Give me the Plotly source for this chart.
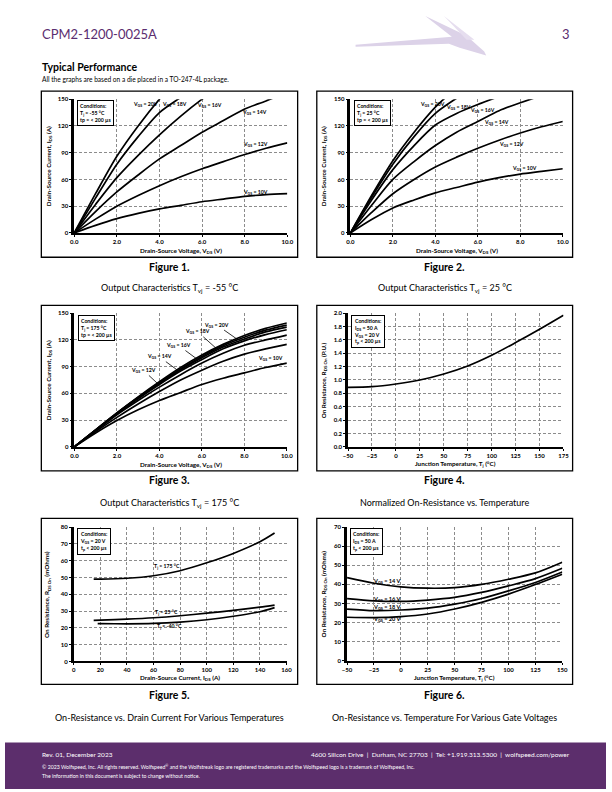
import plotly.graph_objects as go

W, H = 612, 792
FONT = "Lato"
PURPLE = "#5b2d70"

# ---------------- data ----------------
# Figure 1: Output characteristics Tvj = -55 C  (Vds in V, Ids in A)
f1_x20 = [0, 1, 2, 3, 4, 5];            f1_y20 = [0, 44, 86, 120, 150, 176]
f1_x18 = [0, 1, 2, 3, 4, 5, 6];         f1_y18 = [0, 39, 77, 108, 135, 152, 168]
f1_x16 = [0, 1, 2, 3, 4, 5, 6, 7];      f1_y16 = [0, 32, 62, 87, 110, 131, 150, 167]
f1_x14 = [0, 1, 2, 3, 4, 5, 6, 7, 8, 9, 10]; f1_y14 = [0, 24, 46, 65, 83, 98, 113, 126, 139, 148, 158]
f1_x12 = [0, 1, 2, 3, 4, 5, 6, 7, 8, 9, 10]; f1_y12 = [0, 15.5, 30, 42, 53, 63, 72, 80, 88, 95, 101]
f1_x10 = [0, 1, 2, 3, 4, 5, 6, 7, 8, 9, 10]; f1_y10 = [0, 8.5, 16, 22, 27, 31, 35, 38, 41, 43, 44]

# Figure 2: Output characteristics Tvj = 25 C
f2_x20 = [0, 1, 2, 3, 4, 5];            f2_y20 = [0, 42, 81, 113, 141, 163]
f2_x18 = [0, 1, 2, 3, 4, 5, 6];         f2_y18 = [0, 40, 77, 108, 134, 151, 166]
f2_x16 = [0, 1, 2, 3, 4, 5, 6, 7];      f2_y16 = [0, 37, 71, 98, 121, 134, 144, 153]
f2_x14 = [0, 1, 2, 3, 4, 5, 6, 7, 8, 9]; f2_y14 = [0, 31, 60, 80, 98, 113, 125, 137, 146, 154]
f2_x12 = [0, 1, 2, 3, 4, 5, 6, 7, 8, 9, 10]; f2_y12 = [0, 23, 44, 60, 74, 85, 95, 104, 112, 119, 125]
f2_x10 = [0, 1, 2, 3, 4, 5, 6, 7, 8, 9, 10]; f2_y10 = [0, 15, 28, 37, 45, 51, 57, 62, 66, 69, 72]

# Figure 3: Output characteristics Tvj = 175 C (7 curves)
f3_vds = [0, 1, 2, 3, 4, 5, 6, 7, 8, 9, 10]
f3_a = [0, 19, 38, 56, 73, 89, 103, 115, 125, 133, 139]
f3_b = [0, 19, 38, 55.5, 72, 87.5, 101.5, 113.5, 123, 131, 136.7]
f3_c = [0, 18.8, 37.5, 55, 71, 86.5, 100, 112, 121, 129, 134.4]
f3_d = [0, 18.5, 37, 54, 70, 85, 98, 110, 119, 126, 131.5]
f3_e = [0, 18, 36, 52, 67, 81, 94, 105, 114, 120, 125.5]
f3_f = [0, 17, 33, 48, 62, 75, 86, 96, 104, 110, 115]
f3_g = [0, 15.5, 29.5, 41.5, 52, 61, 70, 77, 83, 89, 94]

# Figure 4: Normalized on-resistance vs temperature
f4_tj = [-50, -25, 0, 25, 50, 75, 100, 125, 150, 175]
f4_r = [0.89, 0.90, 0.94, 1.00, 1.09, 1.21, 1.37, 1.56, 1.76, 1.97]

# Figure 5: On-resistance vs drain current
f5_id = [15, 20, 40, 60, 80, 100, 120, 140, 151]
f5_r175 = [49, 49, 49.5, 51, 54, 58.7, 64.3, 71.3, 76.5]
f5_r25 = [24.5, 24.6, 25.2, 26, 27.2, 28.7, 30.4, 32.3, 33.5]
f5_id_m40 = [18, 20, 40, 60, 80, 100, 120, 140, 151]
f5_rm40 = [22.5, 22.5, 22.4, 22.6, 23.4, 24.8, 26.9, 29.6, 32]

# Figure 6: On-resistance vs temperature for various gate voltages
f6_tj = [-50, -25, 0, 25, 50, 75, 100, 125, 150]
f6_r14 = [43.5, 40.6, 38.7, 38, 38.3, 40, 42.7, 46, 51.6]
f6_r16 = [32.6, 31.4, 31.1, 31.8, 33.2, 35.8, 39.2, 43, 48.4]
f6_r18 = [27.1, 26.3, 26.6, 27.6, 29.7, 32.6, 36.6, 41, 46.5]
f6_r20 = [22.8, 22.6, 23.1, 24.5, 27.1, 30.6, 34.9, 39.9, 45.3]

# ---------------- layout helpers ----------------
fig = go.Figure()
annos = []
shapes = []


def px_x(p):
    return p / W


def px_y(p):
    return 1 - p / H


def add_panel(i, box, xr, yr, xt, yt, xfmt=None):
    # box = (left, top, right, bottom) in page px
    l, t, r, b = box
    xa = "xaxis" if i == 1 else f"xaxis{i}"
    ya = "yaxis" if i == 1 else f"yaxis{i}"
    common = dict(showgrid=True, gridcolor="#8c8c8c", griddash="3px,2px", gridwidth=0.8,
                  zeroline=False, showline=True, linecolor="black",
                  ticks="outside", ticklen=2, tickcolor="black",
                  tickfont=dict(family=FONT, size=6, color="black", weight="bold"))
    fig.layout[xa] = dict(domain=[px_x(l), px_x(r)], range=xr, tickvals=xt,
                          anchor=f"y{'' if i == 1 else i}", linewidth=1.5,
                          tickformat=xfmt, **common)
    fig.layout[ya] = dict(domain=[px_y(b), px_y(t)], range=yr, tickvals=yt,
                          anchor=f"x{'' if i == 1 else i}", linewidth=2.5, **common)


def line(i, x, y, name):
    sfx = "" if i == 1 else str(i)
    fig.add_trace(go.Scatter(x=x, y=y, name=name, mode="lines", line=dict(color="black", width=1.7, shape="spline", smoothing=0.8),
                             xaxis="x" + sfx, yaxis="y" + sfx, showlegend=False, hoverinfo="skip"))


def txt(i, x, y, s, size=5.2, **kw):
    sfx = "" if i == 1 else str(i)
    d = dict(x=x, y=y, xref="x" + sfx, yref="y" + sfx, text=s, showarrow=False,
             xanchor="center", yanchor="middle",
             font=dict(family=FONT, size=size, color="black", weight="bold"))
    d.update(kw)
    annos.append(d)


def cond(i, s):
    sfx = "" if i == 1 else str(i)
    annos.append(dict(x=0.015, y=0.99, xref=f"x{sfx} domain", yref=f"y{sfx} domain", xanchor="left", yanchor="top",
                      text=s, showarrow=False, align="left", bgcolor="white", bordercolor="black", borderwidth=1,
                      borderpad=2, font=dict(family=FONT, size=5.2, color="black", weight="bold")))


def page_text(x, y, s, size, color="black", xanchor="left", bold=False):
    annos.append(dict(x=px_x(x), y=px_y(y), xref="paper", yref="paper", text=s, showarrow=False,
                      xanchor=xanchor, yanchor="middle",
                      font=dict(family=FONT, size=size, color=color, weight="bold" if bold else "normal")))


def vtitle(x, y, s):
    annos.append(dict(x=px_x(x), y=px_y(y), xref="paper", yref="paper", text=s, showarrow=False,
                      xanchor="center", yanchor="middle",
                      textangle=-90, font=dict(family=FONT, size=6.3, color="black", weight="bold")))


def htitle(x, y, s):
    annos.append(dict(x=px_x(x), y=px_y(y), xref="paper", yref="paper", text=s, showarrow=False,
                      xanchor="center", yanchor="middle",
                      font=dict(family=FONT, size=6.3, color="black", weight="bold")))


def frame(l, t, r, b):
    shapes.append(dict(type="rect", xref="paper", yref="paper", x0=px_x(l), x1=px_x(r), y0=px_y(b), y1=px_y(t),
                       line=dict(color="black", width=1.3)))


vx = [0, 2, 4, 6, 8, 10]
iy = [0, 30, 60, 90, 120, 150]
VDS_T = "Drain-Source Voltage, V<sub>DS</sub> (V)"
IDS_T = "Drain-Source Current, I<sub>DS</sub> (A)"

# ---- Figure 1 ----
add_panel(1, (70.5, 96, 287.5, 231), [0, 10], [0, 150], vx, iy, ".1f")
for x, y, n in [(f1_x20, f1_y20, "20V"), (f1_x18, f1_y18, "18V"), (f1_x16, f1_y16, "16V"),
                (f1_x14, f1_y14, "14V"), (f1_x12, f1_y12, "12V"), (f1_x10, f1_y10, "10V")]:
    line(1, x, y, "VGS = " + n)
txt(1, 3.35, 144, "V<sub>GS</sub> = 20V")
txt(1, 4.7, 144, "V<sub>GS</sub> = 18V")
txt(1, 6.35, 142.5, "V<sub>GS</sub> = 16V")
txt(1, 8.45, 135.5, "V<sub>GS</sub> = 14V")
txt(1, 8.5, 99, "V<sub>GS</sub> = 12V")
txt(1, 8.5, 45.5, "V<sub>GS</sub> = 10V")
cond(1, "Conditions:<br>T<sub>j</sub> = -55 °C<br>tp = < 200 µs")

# ---- Figure 2 ----
add_panel(2, (351.7, 96, 568, 231), [0, 10], [0, 150], vx, iy, ".1f")
for x, y, n in [(f2_x20, f2_y20, "20V"), (f2_x18, f2_y18, "18V"), (f2_x16, f2_y16, "16V"),
                (f2_x14, f2_y14, "14V"), (f2_x12, f2_y12, "12V"), (f2_x10, f2_y10, "10V")]:
    line(2, x, y, "VGS = " + n)
txt(2, 3.86, 143.7, "V<sub>GS</sub> = 20V")
txt(2, 5.09, 140.8, "V<sub>GS</sub> = 18V")
txt(2, 6.22, 137, "V<sub>GS</sub> = 16V")
txt(2, 6.87, 124, "V<sub>GS</sub> = 14V")
txt(2, 7.6, 99, "V<sub>GS</sub> = 12V")
txt(2, 8.2, 72, "V<sub>GS</sub> = 10V")
cond(2, "Conditions:<br>T<sub>j</sub> = 25 °C<br>tp = < 200 µs")

# ---- Figure 3 ----
add_panel(3, (70.7, 312, 287, 446.7), [0, 10], [0, 150], vx, iy, ".1f")
for y, n in [(f3_a, "a"), (f3_b, "b"), (f3_c, "c"), (f3_d, "d"), (f3_e, "e"), (f3_f, "f"), (f3_g, "g")]:
    line(3, f3_vds, y, n)
for x, y, ax, ay, s in [(7.65, 121, -20, -14, "20V"), (6.7, 110, -19, -17, "18V"), (5.8, 98, -19, -14, "16V"),
                        (4.88, 85.5, -19, -14, "14V"), (3.96, 70, -15, -14, "12V"), (9.8, 92.5, -12, -6, "10V")]:
    annos.append(dict(x=x, y=y, xref="x3", yref="y3", ax=ax, ay=ay, text="V<sub>GS</sub> = " + s,
                      showarrow=True, arrowhead=0, arrowwidth=0.8, arrowcolor="black",
                      font=dict(family=FONT, size=5.2, color="black", weight="bold")))
cond(3, "Conditions:<br>T<sub>j</sub> = 175 °C<br>tp = < 200 µs")

# ---- Figure 4 ----
add_panel(4, (349.3, 312, 568.7, 446.7), [-50, 175], [0, 2.0], list(range(-50, 176, 25)),
          [0, 0.2, 0.4, 0.6, 0.8, 1.0, 1.2, 1.4, 1.6, 1.8, 2.0])
fig.layout.yaxis4.tickformat = ".1f"
line(4, f4_tj, f4_r, "RDS(on) P.U.")
cond(4, "Conditions:<br>I<sub>DS</sub> = 50 A<br>V<sub>GS</sub> = 20 V<br>t<sub>p</sub> < 200 µs")

# ---- Figure 5 ----
add_panel(5, (70, 527.7, 286.7, 663.3), [0, 160], [0, 80], list(range(0, 161, 20)), list(range(0, 81, 10)))
line(5, f5_id, f5_r175, "Tj = 175 °C")
line(5, f5_id, f5_r25, "Tj = 25 °C")
line(5, f5_id_m40, f5_rm40, "Tj = -40 °C")
txt(5, 70, 56.4, "T<sub>j</sub> = 175 °C")
txt(5, 70, 28.9, "T<sub>j</sub> = 25 °C")
txt(5, 72, 20.6, "T<sub>j</sub> = -40 °C")
cond(5, "Conditions:<br>V<sub>GS</sub> = 20 V<br>t<sub>p</sub> < 200 µs")

# ---- Figure 6 ----
add_panel(6, (348.3, 527.7, 567.5, 662.7), [-50, 150], [0, 70], list(range(-50, 151, 25)), list(range(0, 71, 10)))
line(6, f6_tj, f6_r14, "VGS = 14 V")
line(6, f6_tj, f6_r16, "VGS = 16 V")
line(6, f6_tj, f6_r18, "VGS = 18 V")
line(6, f6_tj, f6_r20, "VGS = 20 V")
txt(6, -13, 42, "V<sub>GS</sub> = 14 V", size=5.6)
txt(6, -13, 32.5, "V<sub>GS</sub> = 16 V", size=5.6)
txt(6, -13, 28.2, "V<sub>GS</sub> = 18 V", size=5.6)
txt(6, -13, 22.1, "V<sub>GS</sub> = 20 V", size=5.6)
cond(6, "Conditions:<br>I<sub>DS</sub> = 50 A<br>t<sub>p</sub> < 200 µs")

# axis titles
htitle(179, 249.3, VDS_T); vtitle(45, 163.5, IDS_T)
htitle(460, 249.3, VDS_T); vtitle(325, 163.5, IDS_T)
htitle(179, 465.5, VDS_T); vtitle(45, 379.5, IDS_T)
htitle(459, 464, "Junction Temperature, T<sub>j</sub> (°C)"); vtitle(325, 379.5, "On Resistance, R<sub>DS On</sub> (P.U.)")
htitle(178, 680, "Drain-Source Current, I<sub>DS</sub> (A)"); vtitle(43.5, 595.5, "On Resistance, R<sub>DS On</sub> (mOhms)")
htitle(458, 680, "Junction Temperature, T<sub>j</sub> (°C)"); vtitle(325, 595.5, "On Resistance, R<sub>DS On</sub> (mOhms)")

# frames
frame(37, 88, 298, 255.5)
frame(317.5, 88, 578, 255.5)
frame(37, 304, 298, 471)
frame(317.5, 304, 578, 471)
frame(37, 519, 298, 686.5)
frame(317.5, 519, 578, 686.5)

# captions
caps = [(168, 265, 287, "Figure 1.", "Output Characteristics T<sub>vj</sub> = -55 °C"),
        (448, 265, 287, "Figure 2.", "Output Characteristics T<sub>vj</sub> = 25 °C"),
        (168, 480.5, 503, "Figure 3.", "Output Characteristics T<sub>vj</sub> = 175 °C"),
        (448, 480.5, 503, "Figure 4.", "Normalized On-Resistance vs. Temperature"),
        (168, 697.5, 719.5, "Figure 5.", "On-Resistance vs. Drain Current For Various Temperatures"),
        (448, 697.5, 719.5, "Figure 6.", "On-Resistance vs. Temperature For Various Gate Voltages")]
for cx, y1, y2, a, b in caps:
    page_text(cx, y1, a, 10.5, xanchor="center", bold=True)
    page_text(cx, y2, b, 9, xanchor="center")

# header
page_text(36, 30, "CPM2-1200-0025A", 13, color=PURPLE)
page_text(577, 30, "3", 13, color=PURPLE, xanchor="right")
page_text(36, 64, "Typical Performance", 10.5, bold=True)
page_text(36, 76, "All the graphs are based on a die placed in a TO-247-4L package.", 6.6)

# logo (light streak)
def path(pts):
    return "M " + " L ".join(f"{px_x(x):.4f},{px_y(y):.4f}" for x, y in pts) + " Z"

shapes.append(dict(type="path", xref="paper", yref="paper", line=dict(width=0), fillcolor="#dcd2e8",
                   path=path([(357, 41), (455, 33), (428, 12), (470, 32), (488, 48), (490, 52), (463, 44), (452, 40), (357, 43)])))
shapes.append(dict(type="path", xref="paper", yref="paper", line=dict(width=0), fillcolor="#e6deef",
                   path=path([(447, 12), (478, 36), (470, 36)])))

# footer
shapes.append(dict(type="rect", xref="paper", yref="paper", x0=0, x1=1, y0=0, y1=px_y(745),
                   line=dict(width=0), fillcolor="#5c2e6c", layer="below"))
page_text(36, 757, "Rev. 01, December 2023", 6.5, color="white")
page_text(577, 757, "4600 Silicon Drive  |  Durham, NC 27703  |  Tel: +1.919.313.5300  |  wolfspeed.com/power", 6.5,
          color="white", xanchor="right")
page_text(36, 769.5, "© 2023 Wolfspeed, Inc. All rights reserved. Wolfspeed<sup>®</sup> and the Wolfstreak logo are registered trademarks and the Wolfspeed logo is a trademark of Wolfspeed, Inc.", 5.2, color="white")
page_text(36, 779, "The information in this document is subject to change without notice.", 5.2, color="white")

fig.update_layout(width=W, height=H, margin=dict(l=0, r=0, t=0, b=0), paper_bgcolor="white",
                  plot_bgcolor="white", showlegend=False, annotations=annos, shapes=shapes)
fig.write_html("out.html", config={"displayModeBar": False},
               post_script="document.body.style.margin='0';document.body.style.overflow='hidden';")
